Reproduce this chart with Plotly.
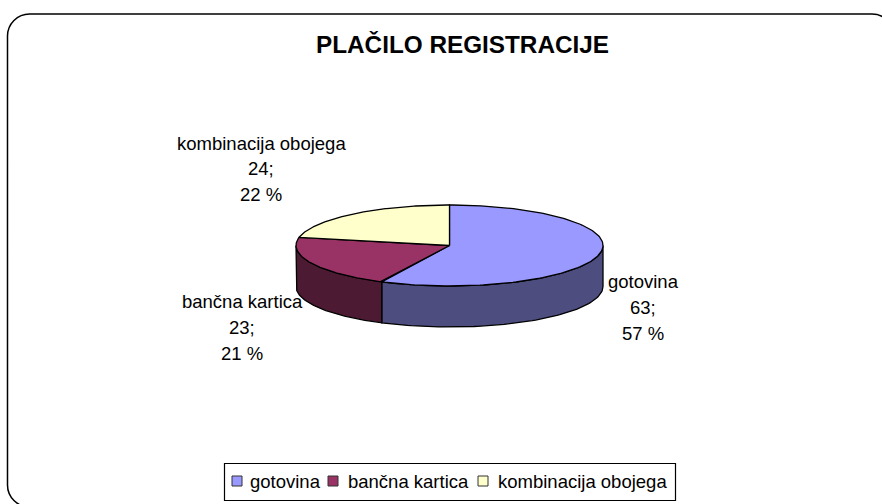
import numpy as np
import plotly.graph_objects as go

categories = ["gotovina", "bančna kartica", "kombinacija obojega"]
values = [63, 23, 24]
percent_labels = ["57 %", "21 %", "22 %"]
top_colors = ["#9999FF", "#993366", "#FFFFCC"]
side_colors = ["#4D4D80", "#4D1A33", "#808066"]
title_text = "PLAČILO REGISTRACIJE"

W, H = 882, 504
CX, CY, RX, RY, DEPTH = 449.5, 245.5, 153.5, 40.5, 41.0
FONT = "Liberation Sans"


def px_x(x):
    return x / W


def px_y(y):
    return 1 - y / H


TILT = RY / RX
THICK = DEPTH / RX
x_range = [-CX / RX, (W - CX) / RX]
y_range = [-(H - CY) / RX, CY / RX]

fig = go.Figure()
total = sum(values)
edges = np.concatenate([[0], np.cumsum(values)]) / total * 2 * np.pi

for i in range(len(values)):
    a0, a1 = max(edges[i], np.pi / 2), min(edges[i + 1], 3 * np.pi / 2)
    if a1 <= a0:
        continue
    t = np.linspace(a0, a1, 80)
    xs = np.sin(t)
    ys = np.cos(t) * TILT
    px = np.concatenate([xs, xs[::-1], xs[:1]])
    py = np.concatenate([ys, ys[::-1] - THICK, ys[:1]])
    fig.add_trace(go.Scatter(x=px, y=py, mode="lines", fill="toself", fillcolor=side_colors[i],
                             line=dict(color="black", width=1.3), hoverinfo="skip", showlegend=False))

for i in range(len(values)):
    t = np.linspace(edges[i], edges[i + 1], 160)
    px = np.concatenate([[0], np.sin(t), [0]])
    py = np.concatenate([[0], np.cos(t) * TILT, [0]])
    fig.add_trace(go.Scatter(x=px, y=py, mode="lines", fill="toself", fillcolor=top_colors[i],
                             line=dict(color="black", width=1.3), name=categories[i], showlegend=False,
                             hovertemplate=f"{categories[i]}: {values[i]}<extra></extra>"))

annotations = []


def text_at(text, x, y, size=18.5, anchor="center"):
    annotations.append(dict(text=text, x=px_x(x), y=px_y(y), xref="paper", yref="paper", showarrow=False,
                            font=dict(family=FONT, size=size, color="black"),
                            xanchor=anchor, yanchor="middle"))


label_pos = [(643, 281), (242, 301), (261, 143)]
for c, v, p, (lx, ly) in zip(categories, values, percent_labels, label_pos):
    text_at(c, lx, ly)
    text_at(f"{v};", lx, ly + 26)
    text_at(p, lx, ly + 52)

text_at(f"<b>{title_text}</b>", 462, 44, size=24.3)

# legend
legend_swatch_x = [237, 333, 483]
legend_text_x = [248, 346, 496]
LEG_Y = 481
shapes = [dict(type="rect", x0=px_x(224.5), x1=px_x(675.5), y0=px_y(463.5), y1=px_y(500.5), xref="paper",
               yref="paper", line=dict(color="black", width=1.2), fillcolor="white", layer="below")]
for c, col, sx, tx in zip(categories, top_colors, legend_swatch_x, legend_text_x):
    shapes.append(dict(type="rect", x0=px_x(sx - 5), x1=px_x(sx + 5), y0=px_y(LEG_Y - 5), y1=px_y(LEG_Y + 5),
                       xref="paper", yref="paper", fillcolor=col, line=dict(color="#333333", width=1)))
    text_at(c, tx, LEG_Y, anchor="left")

R = 22
K = R * 0.45
L, T, RR, B = 7.5, 14, 894, 507
X, Y = px_x, px_y
frame = (f"M {X(L + R)},{Y(B)} C {X(L + K)},{Y(B)} {X(L)},{Y(B - K)} {X(L)},{Y(B - R)} "
         f"L {X(L)},{Y(T + R)} C {X(L)},{Y(T + K)} {X(L + K)},{Y(T)} {X(L + R)},{Y(T)} "
         f"L {X(RR - R)},{Y(T)} C {X(RR - K)},{Y(T)} {X(RR)},{Y(T + K)} {X(RR)},{Y(T + R)} "
         f"L {X(RR)},{Y(B - R)}")
shapes.insert(0, dict(type="path", path=frame, xref="paper", yref="paper",
                      line=dict(color="black", width=1.5), layer="below"))

fig.update_layout(
    width=W, height=H, margin=dict(l=0, r=0, t=0, b=0), autosize=False,
    paper_bgcolor="white", plot_bgcolor="rgba(0,0,0,0)", showlegend=False,
    xaxis=dict(range=x_range, visible=False, fixedrange=True),
    yaxis=dict(range=y_range, visible=False, fixedrange=True),
    annotations=annotations,
    shapes=shapes,
)
fig.write_html("out.html", config=dict(displayModeBar=False),
               post_script="document.body.style.margin='0';document.body.style.overflow='hidden';")
